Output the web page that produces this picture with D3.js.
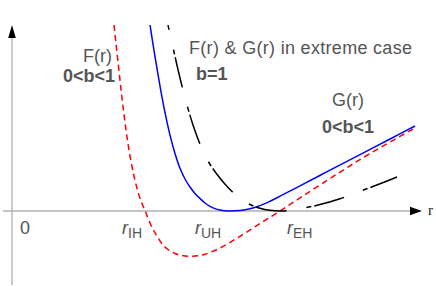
<!DOCTYPE html>
<html><head><meta charset="utf-8">
<script src="https://cdn.jsdelivr.net/npm/d3@7"></script>
<style>body{margin:0;background:#fff}svg{display:block}</style>
</head><body>
<script>
// F(r), 0<b<1 (red dashed)
const redR = [10.2,10.6,11.0,11.4,11.8,12.2,12.6,13.0,13.4,13.8,14.2,14.6,15.1,15.6,16.3,17.0,17.8,18.6,19.3,20.8,22.8,24.8,26.8,29.1,32.5,35.8,40.3];
const redV = [18.6,14.9,11.3,8.1,5.5,3.5,1.9,0.75,-0.2,-1.2,-2.0,-2.7,-3.4,-3.85,-4.25,-4.45,-4.53,-4.48,-4.33,-3.7,-2.53,-1.25,0,1.5,3.7,5.75,8.3];
// G(r), 0<b<1 (blue solid)
const blueR = [13.8,14.3,14.8,15.3,15.8,16.3,16.8,17.3,17.8,18.3,18.8,19.3,19.8,20.3,20.8,21.3,21.8,22.8,23.8,24.8,25.8,26.8,28.8,31.8,34.8,37.8,40.3];
const blueV = [18.6,15.44,12.48,9.83,7.59,5.75,4.27,3.2,2.4,1.75,1.25,0.8,0.47,0.24,0.1,0.02,0,0.05,0.22,0.54,0.98,1.48,2.52,4.08,5.64,7.2,8.5];
// F(r) & G(r), extreme case b=1 (black dash-dot)
const blackR = [15.6,16.2,16.8,17.5,18.2,18.9,19.6,20.4,21.2,22.0,22.8,23.8,24.8,25.8,27.0,28.8,30.8,32.8,34.8,36.8,38.5];
const blackV = [18.6,15.9,13.3,10.6,8.3,6.45,5.0,3.8,2.8,1.95,1.25,0.65,0.27,0.07,0,0.24,0.64,1.22,1.97,2.72,3.4];
// axis tick labels
const tickR = [0.8, 11.0, 18.3, 27.5];
const tickMain = ["0", "r", "r", "r"];
const tickSub = ["", "IH", "UH", "EH"];

const W = 436, H = 286;
const svg = d3.select("body").append("svg").attr("width", W).attr("height", H);
const x = d3.scaleLinear().domain([0, 41]).range([12, 422]);
const y = d3.scaleLinear().domain([-7.4, 18.6]).range([285, 25]);

const defs = svg.append("defs");
const clip = defs.append("clipPath").attr("id","c");
clip.append("rect").attr("x",0).attr("y",y(18.6)).attr("width",W).attr("height",H);

// axes
svg.append("line").attr("x1", 3).attr("x2", x(40)).attr("y1", y(0)).attr("y2", y(0))
  .attr("stroke", "#c4c4c4").attr("stroke-width", 2);
svg.append("line").attr("x1", x(0)).attr("x2", x(0)).attr("y1", 285).attr("y2", y(17.3))
  .attr("stroke", "#a8a8a8").attr("stroke-width", 1.2);
// arrowheads
svg.append("path").attr("d", d3.line()([[x(39.8), y(0)-4.2],[x(41), y(0)],[x(39.8), y(0)+4.2]]) + "Z")
  .attr("fill", "#000");
svg.append("path").attr("d", d3.line()([[x(0)-3.8, y(17.3)],[x(0), y(18.6)],[x(0)+3.8, y(17.3)]]) + "Z")
  .attr("fill", "#000");
svg.append("text").attr("x", 428).attr("y", 215).attr("font-family", "Liberation Serif, serif")
  .attr("font-size", 15).attr("fill", "#222").text("r");

const line = d3.line().x(d => x(d[0])).y(d => y(d[1])).curve(d3.curveCatmullRom.alpha(0.5));
const g = svg.append("g").attr("clip-path", "url(#c)");
g.append("path").attr("d", line(redR.map((r,i)=>[r, redV[i]])))
  .attr("fill","none").attr("stroke","#ff0000").attr("stroke-width",1.5).attr("stroke-dasharray","6,4");
g.append("path").attr("d", line(blueR.map((r,i)=>[r, blueV[i]])))
  .attr("fill","none").attr("stroke","#0000ff").attr("stroke-width",1.5);
g.append("path").attr("d", line(blackR.map((r,i)=>[r, blackV[i]])))
  .attr("fill","none").attr("stroke","#000").attr("stroke-width",1.5)
  .attr("stroke-dasharray","5,3,31,20").attr("stroke-dashoffset", 34);

// tick labels
const tl = svg.selectAll("text.tick").data(tickR).enter().append("text").attr("class","tick")
  .attr("x", d => x(d)).attr("y", 234).attr("font-family", "Liberation Sans, Arial, sans-serif")
  .attr("fill", "#555").attr("font-size", 18);
tl.append("tspan").attr("font-style", (d,i) => i ? "italic" : "normal").text((d,i) => tickMain[i]);
tl.append("tspan").attr("dy", 4).attr("font-size", 14).text((d,i) => tickSub[i]);

// annotation labels
const txt = (xx, yy, s, bold, len) => {
  const t = svg.append("text").attr("x", xx).attr("y", yy)
    .attr("font-family", "Liberation Sans, Arial, sans-serif").attr("font-size", 18)
    .attr("fill", "#555").attr("font-weight", bold ? "bold" : "normal").text(s);
  if (len) t.attr("textLength", len).attr("lengthAdjust", "spacing");
};
txt(83, 62, "F(r)", false);
txt(63, 82, "0<b<1", true);
txt(189, 54, "F(r) & G(r) in extreme case", false, 223);
txt(196, 80, "b=1", true);
txt(332, 106, "G(r)", false);
txt(322, 133, "0<b<1", true);
</script>
</body></html>
